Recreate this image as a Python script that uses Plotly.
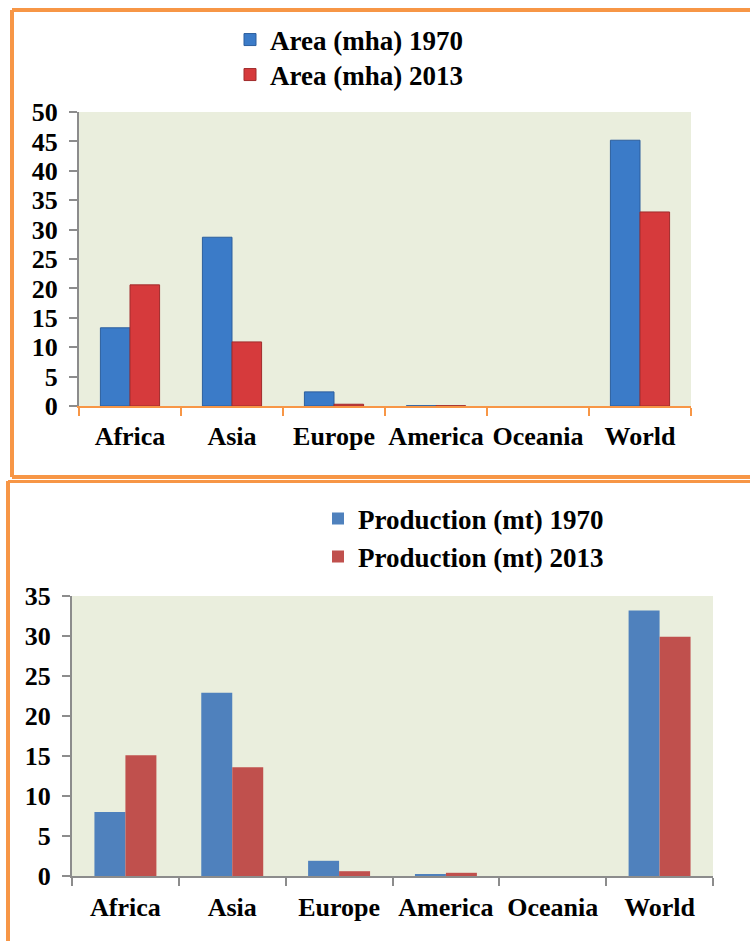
import plotly.graph_objects as go

regions = ["Africa", "Asia", "Europe", "America", "Oceania", "World"]
area_1970 = [13.3, 28.7, 2.4, 0.05, 0.0, 45.2]
area_2013 = [20.6, 10.9, 0.3, 0.05, 0.0, 33.0]
prod_1970 = [8.0, 22.9, 1.9, 0.2, 0.0, 33.2]
prod_2013 = [15.1, 13.6, 0.6, 0.4, 0.0, 29.9]

W, H = 750, 941
FONT = "Liberation Serif"
ORANGE = "#f79646"
GRAY = "#8c8c8c"


def px(x):
    return x / W


def py(y):
    return 1 - y / H


def edge_widths(values):
    return [1 if v > 0 else 0 for v in values]


fig = go.Figure()

fig.add_trace(go.Bar(x=regions, y=area_1970, name="Area (mha) 1970", showlegend=True,
                     marker=dict(color="#3b7bc8",
                                 line=dict(color="#2d5f9e", width=edge_widths(area_1970))),
                     xaxis="x", yaxis="y", legend="legend"))
fig.add_trace(go.Bar(x=regions, y=area_2013, name="Area (mha) 2013", showlegend=True,
                     marker=dict(color="#d63a3c",
                                 line=dict(color="#a02c2c", width=edge_widths(area_2013))),
                     xaxis="x", yaxis="y", legend="legend2"))
fig.add_trace(go.Bar(x=regions, y=prod_1970, name="Production (mt) 1970", showlegend=True,
                     marker=dict(color="#4f81bd", line=dict(width=0)),
                     xaxis="x2", yaxis="y2", legend="legend3"))
fig.add_trace(go.Bar(x=regions, y=prod_2013, name="Production (mt) 2013", showlegend=True,
                     marker=dict(color="#c0504d", line=dict(width=0)),
                     xaxis="x2", yaxis="y2", legend="legend4"))

tickfont = dict(family=FONT, size=26, color="black", weight="bold")
legfont = dict(family=FONT, size=27, color="black", weight="bold")


def legend_at(x, y):
    return dict(x=px(x), y=py(y), xanchor="left", yanchor="middle",
                bgcolor="rgba(0,0,0,0)", font=legfont, visible=True)


fig.update_layout(
    width=W, height=H,
    showlegend=True,
    margin=dict(l=0, r=0, t=0, b=0, autoexpand=False),
    paper_bgcolor="white",
    plot_bgcolor="#eaeedd",
    barmode="group",
    bargap=0.42,
    bargroupgap=0,
    font=dict(family=FONT, color="black"),
    xaxis=dict(domain=[px(79), px(691)], anchor="y", type="category",
               showline=True, linecolor=ORANGE, linewidth=2,
               ticks="outside", tickson="boundaries", ticklen=8, tickcolor=ORANGE, tickwidth=2,
               tickfont=tickfont, tickangle=0, showgrid=False, ticklabelstandoff=6,
               automargin=False),
    yaxis=dict(domain=[py(406), py(112)], anchor="x", range=[0, 50], dtick=5,
               showline=True, linecolor=GRAY, linewidth=2,
               ticks="outside", ticklen=8, tickcolor=GRAY, tickwidth=2,
               tickfont=tickfont, showgrid=False, zeroline=False, ticklabelstandoff=6,
               automargin=False),
    xaxis2=dict(domain=[px(72), px(713)], anchor="y2", type="category",
                showline=True, linecolor=GRAY, linewidth=2,
                ticks="outside", tickson="boundaries", ticklen=8, tickcolor=GRAY, tickwidth=2,
                tickfont=tickfont, tickangle=0, showgrid=False, ticklabelstandoff=7,
                automargin=False),
    yaxis2=dict(domain=[py(876), py(596)], anchor="x2", range=[0, 35], dtick=5,
                showline=True, linecolor=GRAY, linewidth=2,
                ticks="outside", ticklen=8, tickcolor=GRAY, tickwidth=2,
                tickfont=tickfont, showgrid=False, zeroline=False, ticklabelstandoff=6,
                automargin=False),
    legend=legend_at(230, 40),
    legend2=legend_at(230, 75),
    legend3=legend_at(318, 519),
    legend4=legend_at(318, 557),
    shapes=[
        dict(type="line", xref="paper", yref="paper", x0=px(12), x1=1.01, y0=py(10), y1=py(10),
             line=dict(color=ORANGE, width=4)),
        dict(type="line", xref="paper", yref="paper", x0=px(12), x1=px(12), y0=py(10), y1=py(477),
             line=dict(color=ORANGE, width=4)),
        dict(type="line", xref="paper", yref="paper", x0=px(12), x1=1.01, y0=py(477), y1=py(477),
             line=dict(color=ORANGE, width=4)),
        dict(type="line", xref="paper", yref="paper", x0=px(8), x1=1.01, y0=py(481.5), y1=py(481.5),
             line=dict(color=ORANGE, width=3)),
        dict(type="line", xref="paper", yref="paper", x0=px(8), x1=px(8), y0=py(481), y1=-0.01,
             line=dict(color=ORANGE, width=4)),
    ],
)

fig.write_html("out.html")
